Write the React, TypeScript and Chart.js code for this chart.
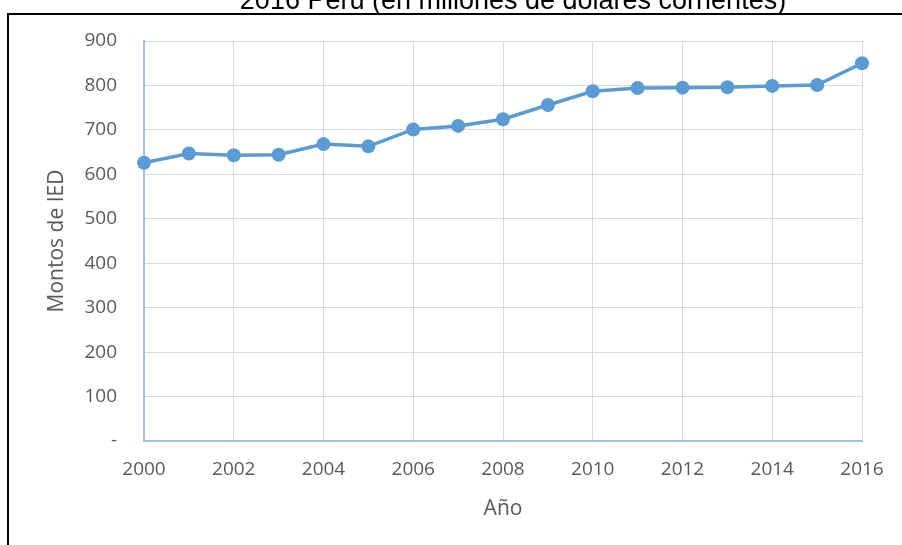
import React, { useEffect, useRef } from "react";
import { Chart, registerables } from "chart.js";

Chart.register(...registerables);

const titleText = "2016 Perú (en millones de dólares corrientes)";
const xAxisTitle = "Año";
const yAxisTitle = "Montos de IED";
const years = [2000, 2001, 2002, 2003, 2004, 2005, 2006, 2007, 2008, 2009, 2010, 2011, 2012, 2013, 2014, 2015, 2016];
const montos = [626, 647, 643, 644, 668, 663, 701, 709, 724, 756, 787, 794, 795, 796, 799, 801, 850];
const yMin = 0;
const yMax = 900;
const yStep = 100;
const xStep = 2;

const frameAndTitle = {
  id: "frameAndTitle",
  afterDraw(chart: any) {
    const ctx = chart.ctx;
    ctx.save();
    ctx.fillStyle = "#000000";
    ctx.fillRect(7, 13, 895, 2);
    ctx.fillRect(7, 13, 2, 532);
    ctx.font = "27px 'Liberation Sans', Arial, sans-serif";
    ctx.textAlign = "center";
    ctx.textBaseline = "alphabetic";
    ctx.fillText(titleText, 513, 9);
    ctx.restore();
  },
};

export default function App() {
  const ref = useRef<HTMLCanvasElement | null>(null);
  useEffect(() => {
    if (!ref.current) return;
    const tickFont = { family: "'Open Sans', sans-serif", size: 19 };
    const titleFont = { family: "'Open Sans', sans-serif", size: 21 };
    const chart = new Chart(ref.current, {
      type: "line",
      data: {
        datasets: [
          {
            data: years.map((y, i) => ({ x: y, y: montos[i] })),
            borderColor: "#5B9BD5",
            backgroundColor: "#5B9BD5",
            borderWidth: 3.5,
            pointRadius: 7,
            pointBackgroundColor: "#5B9BD5",
            pointBorderWidth: 0,
            tension: 0,
            clip: false,
          },
        ],
      },
      options: {
        animation: false,
        responsive: false,
        layout: { padding: { left: 0, right: 40, top: 41, bottom: 0 } },
        plugins: { legend: { display: false }, tooltip: { enabled: false } },
        scales: {
          x: {
            type: "linear",
            min: years[0],
            max: years[years.length - 1],
            ticks: {
              stepSize: xStep,
              color: "#595959",
              font: tickFont,
              padding: 17,
              callback: (v: any) => String(v),
            },
            grid: { color: "#D9D9D9", lineWidth: 1, drawTicks: false },
            border: { color: "#9DC3E6", width: 2 },
            title: { display: true, text: xAxisTitle, color: "#595959", font: titleFont, padding: { top: 0, bottom: 23 } },
            afterFit: (s: any) => { s.height = 104; },
          },
          y: {
            min: yMin,
            max: yMax,
            ticks: {
              stepSize: yStep,
              color: "#595959",
              font: tickFont,
              padding: 27,
              callback: (v: any) => (v === 0 ? "-" : String(v)),
            },
            grid: { color: "#D9D9D9", lineWidth: 1, drawTicks: false },
            border: { color: "#9DC3E6", width: 2 },
            title: { display: true, text: yAxisTitle, color: "#595959", font: titleFont, padding: { top: 44, bottom: 0 } },
            afterFit: (s: any) => { s.width = 144; },
          },
        },
      },
      plugins: [frameAndTitle],
    } as any);
    return () => chart.destroy();
  }, []);
  return (
    <div style={{ position: "fixed", left: 0, top: 0, width: 902, height: 545, background: "#fff" }}>
      <canvas ref={ref} width={902} height={545} />
    </div>
  );
}
